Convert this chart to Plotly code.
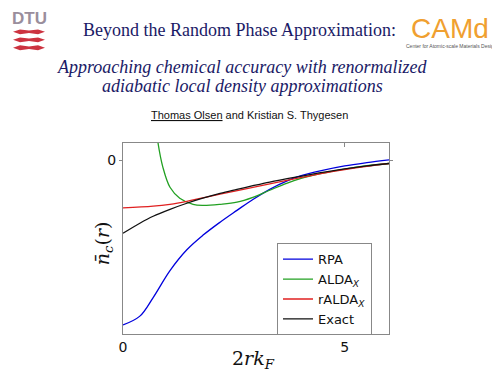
import plotly.graph_objects as go

# ---- data ----
x_rpa = [0, 0.38, 0.68, 1.06, 1.44, 1.80, 2.19, 2.57, 2.93, 3.31, 3.69, 4.0, 4.5, 5.0,
         5.5, 6.0]
y_rpa = [-0.948, -0.897, -0.790, -0.635, -0.515, -0.432, -0.356, -0.288, -0.225,
         -0.167, -0.120, -0.090, -0.058, -0.032, -0.013, 0.003]

x_alda = [0.7, 0.79, 0.9, 1.06, 1.28, 1.58, 1.80, 2.19, 2.57, 2.93, 3.31, 3.69, 4.0, 4.5,
          5.0, 5.5, 6.0]
y_alda = [0.3, 0.1, -0.04, -0.155, -0.218, -0.253, -0.259, -0.253, -0.241, -0.213, -0.172,
          -0.132, -0.105, -0.074, -0.050, -0.031, -0.018]

x_ralda = [0, 0.68, 1.06, 1.44, 1.80, 2.19, 2.93, 3.5, 4.0, 4.5, 5.0, 5.5, 6.0]
y_ralda = [-0.274, -0.264, -0.253, -0.236, -0.216, -0.195, -0.155, -0.125, -0.100,
           -0.075, -0.053, -0.034, -0.018]

x_exact = [0, 0.38, 0.68, 1.06, 1.44, 1.80, 2.19, 2.57, 2.93, 3.31, 4.0, 4.5, 5.0, 5.5, 6.0]
y_exact = [-0.42, -0.362, -0.322, -0.282, -0.247, -0.218, -0.190, -0.167, -0.146, -0.125,
           -0.092, -0.069, -0.049, -0.032, -0.018]

x_ticks = [0, 5]
x_tick_labels = ["0", "5"]
y_ticks = [0]
y_tick_labels = ["0"]

# ---- layout geometry (page pixels; the html body adds an 8px offset) ----
OFF = 8
W, H = 500 - OFF, 375 - OFF
L, R, T, B = 123 - OFF, 389 - OFF, 142.5 - OFF, 334 - OFF


def px(x):
    return (x - OFF - L) / (R - L)


def py(y):
    return (B - (y - OFF)) / (B - T)


fig = go.Figure()
series = [
    (x_rpa, y_rpa, "RPA", "#0000dd"),
    (x_alda, y_alda, "ALDA<sub><i>X</i></sub>", "#22a022"),
    (x_ralda, y_ralda, "rALDA<sub><i>X</i></sub>", "#e02020"),
    (x_exact, y_exact, "Exact", "#111111"),
]
for xs, ys, name, col in series:
    fig.add_trace(go.Scatter(x=xs, y=ys, mode="lines", name=name,
                             line=dict(color=col, width=1.3, shape="spline", smoothing=1.0)))

shapes = []
# DTU logo waves
for yc in [31, 39, 47]:
    pts = [(13, yc), (20, yc - 2.4), (29, yc - 1.2), (38, yc - 2.4), (45, yc),
           (38, yc + 2.4), (29, yc + 1.2), (20, yc + 2.4)]
    path = "M " + " L ".join(f"{px(a):.4f},{py(b):.4f}" for a, b in pts) + " Z"
    shapes.append(dict(type="path", xref="paper", yref="paper", path=path,
                       fillcolor="#cc3340", line=dict(width=0)))

serif = "Liberation Serif"
navy = "#1a1a66"
annotations = [
    dict(text="<b>DTU</b>", x=px(29), y=py(18), xref="paper", yref="paper", showarrow=False,
         font=dict(family="Liberation Sans", size=17, color="#9a8e9c"),
         xanchor="center", yanchor="middle"),
    dict(text="CAMd", x=px(450), y=py(28), xref="paper", yref="paper", showarrow=False,
         font=dict(family="Liberation Sans", size=28, color="#f0a030"),
         xanchor="center", yanchor="middle"),
    dict(text="Center for Atomic-scale Materials Design", x=px(451), y=py(45), xref="paper",
         yref="paper", showarrow=False,
         font=dict(family="Liberation Sans", size=5, color="#555555"),
         xanchor="center", yanchor="middle"),
    dict(text="Beyond the Random Phase Approximation:", x=px(239), y=py(29), xref="paper",
         yref="paper", showarrow=False, font=dict(family=serif, size=18, color=navy),
         xanchor="center", yanchor="middle"),
    dict(text="<i>Approaching chemical accuracy with renormalized</i>", x=px(242), y=py(66),
         xref="paper", yref="paper", showarrow=False,
         font=dict(family=serif, size=18, color=navy), xanchor="center", yanchor="middle"),
    dict(text="<i>adiabatic local density approximations</i>", x=px(242), y=py(85),
         xref="paper", yref="paper", showarrow=False,
         font=dict(family=serif, size=18, color=navy), xanchor="center", yanchor="middle"),
    dict(text="<u>Thomas Olsen</u> and Kristian S. Thygesen", x=px(249), y=py(114),
         xref="paper", yref="paper", showarrow=False,
         font=dict(family="Liberation Sans", size=11, color="#111111"),
         xanchor="center", yanchor="middle"),
    # axis titles
    dict(text="2<i>rk<sub>F</sub></i>", x=px(253), y=py(360), xref="paper", yref="paper",
         showarrow=False, font=dict(family="DejaVu Serif", size=19, color="#111111"),
         xanchor="center", yanchor="middle"),
    dict(text="<i>n̄<sub>c</sub></i>(<i>r</i>)", x=px(103), y=py(243), xref="paper",
         yref="paper", showarrow=False, textangle=-90,
         font=dict(family="DejaVu Serif", size=19, color="#111111"),
         xanchor="center", yanchor="middle"),
]

fig.update_layout(
    width=W, height=H,
    margin=dict(l=L, r=W - R, t=T, b=H - B, pad=0),
    paper_bgcolor="white", plot_bgcolor="white",
    shapes=shapes, annotations=annotations,
    showlegend=True,
    legend=dict(x=px(277), y=py(243), xanchor="left", yanchor="top",
                bordercolor="#888888", borderwidth=1, bgcolor="white",
                font=dict(family="DejaVu Sans", size=13, color="#111111"),
                tracegroupgap=0, itemwidth=30),
    xaxis=dict(range=[0, 6], tickvals=x_ticks, ticktext=x_tick_labels,
               showgrid=False, zeroline=False, showline=True, linecolor="#888888",
               linewidth=1, mirror="ticks", ticks="inside", ticklen=4, tickcolor="#888888",
               tickfont=dict(family="DejaVu Sans", size=14, color="#111111")),
    yaxis=dict(range=[-1.0, 0.1], tickvals=y_ticks, ticktext=y_tick_labels,
               showgrid=False, zeroline=False, showline=True, linecolor="#888888",
               linewidth=1, mirror="ticks", ticks="outside", ticklen=3, tickcolor="#888888",
               tickfont=dict(family="DejaVu Sans", size=14, color="#111111")),
)

fig.write_html("out.html")
